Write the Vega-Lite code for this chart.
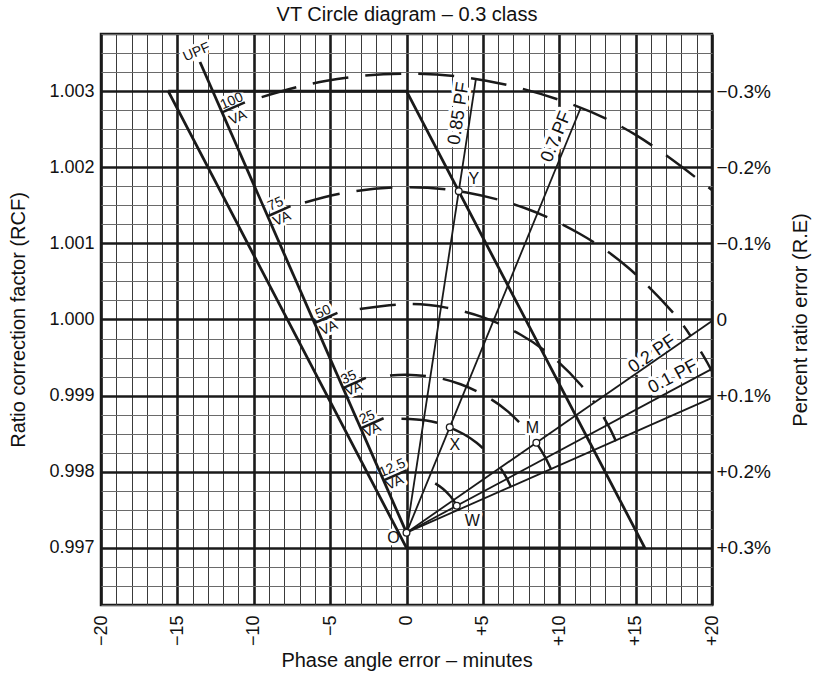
{
  "$schema": "https://vega.github.io/schema/vega-lite/v6.json",
  "width": 611,
  "height": 571,
  "autosize": {"type": "none"},
  "padding": {"left": 101, "top": 34, "right": 101, "bottom": 74},
  "background": "white",
  "config": {"font": "Liberation Sans", "view": {"stroke": "#1a1a1a", "strokeWidth": 2.5}},
  "datasets": {
    "heavy": [
      {"id": "para", "o": 0, "x": -15.6, "y": 1.003},
      {"id": "para", "o": 1, "x": 0, "y": 1.003},
      {"id": "para", "o": 2, "x": 15.6, "y": 0.997},
      {"id": "para", "o": 3, "x": 0, "y": 0.997},
      {"id": "para", "o": 4, "x": -15.6, "y": 1.003},
      {"id": "upf", "o": 0, "x": 0, "y": 0.9972},
      {"id": "upf", "o": 1, "x": -13.52, "y": 1.003382}
    ],
    "rays": [
      {"id": "pf085", "o": 0, "x": 0, "y": 0.9972},
      {"id": "pf085", "o": 1, "x": 4.546, "y": 1.00316},
      {"id": "pf07", "o": 0, "x": 0, "y": 0.9972},
      {"id": "pf07", "o": 1, "x": 11.4, "y": 1.002778},
      {"id": "pf02", "o": 0, "x": 0, "y": 0.9972},
      {"id": "pf02", "o": 1, "x": 20, "y": 0.99998},
      {"id": "pf01", "o": 0, "x": 0, "y": 0.9972},
      {"id": "pf01", "o": 1, "x": 20, "y": 0.999352},
      {"id": "pf00", "o": 0, "x": 0, "y": 0.9972},
      {"id": "pf00", "o": 1, "x": 20, "y": 0.99897}
    ],
    "ticks": [
      {"id": "t100", "o": 0, "x": -12.08, "y": 1.002721},
      {"id": "t100", "o": 1, "x": -10.58, "y": 1.002853},
      {"id": "t75", "o": 0, "x": -9.09, "y": 1.001356},
      {"id": "t75", "o": 1, "x": -7.59, "y": 1.001488},
      {"id": "t50", "o": 0, "x": -6.02, "y": 0.999954},
      {"id": "t50", "o": 1, "x": -4.52, "y": 1.000086},
      {"id": "t35", "o": 0, "x": -4.16, "y": 0.9991},
      {"id": "t35", "o": 1, "x": -2.66, "y": 0.999232},
      {"id": "t25", "o": 0, "x": -3.0, "y": 0.998571},
      {"id": "t25", "o": 1, "x": -1.5, "y": 0.998703},
      {"id": "t12", "o": 0, "x": -1.5, "y": 0.997886},
      {"id": "t12", "o": 1, "x": 0.0, "y": 0.998018}
    ],
    "dashArcs": [
      {"id": "a100", "o": 0, "x": -9.48, "y": 1.002921},
      {"id": "a100", "o": 1, "x": -5.22, "y": 1.003137},
      {"id": "a100", "o": 2, "x": 0, "y": 1.003229},
      {"id": "a100", "o": 3, "x": 5.22, "y": 1.003137},
      {"id": "a100", "o": 4, "x": 10.28, "y": 1.002865},
      {"id": "a100", "o": 5, "x": 15.03, "y": 1.002421},
      {"id": "a100", "o": 6, "x": 19.99, "y": 1.001701},
      {"id": "a75", "o": 0, "x": -6.65, "y": 1.001537},
      {"id": "a75", "o": 1, "x": -3.93, "y": 1.001669},
      {"id": "a75", "o": 2, "x": 0, "y": 1.001738},
      {"id": "a75", "o": 3, "x": 3.93, "y": 1.001669},
      {"id": "a75", "o": 4, "x": 7.74, "y": 1.001464},
      {"id": "a75", "o": 5, "x": 11.31, "y": 1.00113},
      {"id": "a75", "o": 6, "x": 14.54, "y": 1.000676},
      {"id": "a75", "o": 7, "x": 17.33, "y": 1.000117},
      {"id": "a75", "o": 8, "x": 18.6, "y": 0.999784},
      {"id": "a50", "o": 0, "x": -3.06, "y": 1.000139},
      {"id": "a50", "o": 1, "x": 0, "y": 1.000202},
      {"id": "a50", "o": 2, "x": 2.6, "y": 1.000156},
      {"id": "a50", "o": 3, "x": 5.12, "y": 1.000021},
      {"id": "a50", "o": 4, "x": 7.48, "y": 0.9998},
      {"id": "a50", "o": 5, "x": 9.62, "y": 0.9995},
      {"id": "a50", "o": 6, "x": 11.46, "y": 0.99913},
      {"id": "a50", "o": 7, "x": 12.3, "y": 0.998909},
      {"id": "a35", "o": 0, "x": -1.08, "y": 0.999264},
      {"id": "a35", "o": 1, "x": 0, "y": 0.999275},
      {"id": "a35", "o": 2, "x": 1.8, "y": 0.999243},
      {"id": "a35", "o": 3, "x": 3.54, "y": 0.99915},
      {"id": "a35", "o": 4, "x": 5.17, "y": 0.998997},
      {"id": "a35", "o": 5, "x": 6.65, "y": 0.99879},
      {"id": "a35", "o": 6, "x": 7.92, "y": 0.998534},
      {"id": "a25", "o": 0, "x": -0.33, "y": 0.998696},
      {"id": "a25", "o": 1, "x": 1.3, "y": 0.998674},
      {"id": "a25", "o": 2, "x": 2.55, "y": 0.998607},
      {"id": "a25", "o": 3, "x": 3.73, "y": 0.998496},
      {"id": "a25", "o": 4, "x": 4.59, "y": 0.99838},
      {"id": "a25", "o": 5, "x": 5.37, "y": 0.99824}
    ],
    "solidArcs": [
      {"id": "s75", "o": 0, "x": 19.27, "y": 0.999578},
      {"id": "s75", "o": 1, "x": 19.63, "y": 0.999455},
      {"id": "s75", "o": 2, "x": 19.99, "y": 0.999323},
      {"id": "s50", "o": 0, "x": 12.9, "y": 0.998719},
      {"id": "s50", "o": 1, "x": 13.33, "y": 0.998563},
      {"id": "s50", "o": 2, "x": 13.71, "y": 0.998402},
      {"id": "s35", "o": 0, "x": 8.5, "y": 0.998381},
      {"id": "s35", "o": 1, "x": 9.04, "y": 0.998206},
      {"id": "s35", "o": 2, "x": 9.48, "y": 0.998027},
      {"id": "s25", "o": 0, "x": 6.17, "y": 0.998044},
      {"id": "s25", "o": 1, "x": 6.53, "y": 0.997926},
      {"id": "s25", "o": 2, "x": 6.83, "y": 0.997802},
      {"id": "s12", "o": 0, "x": 1.88, "y": 0.997847},
      {"id": "s12", "o": 1, "x": 2.4, "y": 0.997774},
      {"id": "s12", "o": 2, "x": 2.86, "y": 0.997681},
      {"id": "s12", "o": 3, "x": 3.2, "y": 0.997586},
      {"id": "s12", "o": 4, "x": 3.44, "y": 0.997489}
    ],
    "pts": [
      {"p": "O", "x": 0, "y": 0.9972},
      {"p": "X", "x": 2.83, "y": 0.998585},
      {"p": "Y", "x": 3.42, "y": 1.001686},
      {"p": "M", "x": 8.5, "y": 0.998381},
      {"p": "W", "x": 3.29, "y": 0.997554}
    ],
    "labels": [
      {"g": "va", "t": "UPF", "x": -13.73, "y": 1.003511},
      {"g": "va", "t": "100", "x": -11.44, "y": 1.002867},
      {"g": "va", "t": "VA", "x": -11.04, "y": 1.002651},
      {"g": "va", "t": "75", "x": -8.57, "y": 1.001515},
      {"g": "va", "t": "VA", "x": -8.15, "y": 1.00132},
      {"g": "va", "t": "50", "x": -5.45, "y": 1.000096},
      {"g": "va", "t": "VA", "x": -5.09, "y": 0.999886},
      {"g": "va", "t": "35", "x": -3.78, "y": 0.999236},
      {"g": "va", "t": "VA", "x": -3.45, "y": 0.999085},
      {"g": "va", "t": "25", "x": -2.57, "y": 0.998713},
      {"g": "va", "t": "VA", "x": -2.25, "y": 0.998546},
      {"g": "va", "t": "12.5", "x": -0.93, "y": 0.998047},
      {"g": "va", "t": "VA", "x": -0.77, "y": 0.997856},
      {"g": "pf085", "t": "0.85 PF", "x": 3.44, "y": 1.002706},
      {"g": "pf07", "t": "0.7 PF", "x": 9.82, "y": 1.002399},
      {"g": "pf02", "t": "0.2 PF", "x": 16.09, "y": 0.999544},
      {"g": "pf01", "t": "0.1 PF", "x": 17.45, "y": 0.999246},
      {"g": "pt", "t": "X", "x": 3.16, "y": 0.998349},
      {"g": "pt", "t": "Y", "x": 4.41, "y": 1.001852},
      {"g": "pt", "t": "M", "x": 8.24, "y": 0.998579},
      {"g": "pt", "t": "W", "x": 4.31, "y": 0.99735},
      {"g": "pt", "t": "O", "x": -0.85, "y": 0.99713}
    ]
  },
  "resolve": {"axis": {"x": "independent", "y": "independent"}},
  "layer": [
    {
      "data": {"name": "pts"},
      "mark": {"type": "point", "opacity": 0},
      "encoding": {
        "x": {"field": "x", "type": "quantitative", "scale": {"domain": [-20, 20], "nice": false, "zero": false},
          "axis": {
            "orient": "bottom",
            "values": [-20,-19,-18,-17,-16,-15,-14,-13,-12,-11,-10,-9,-8,-7,-6,-5,-4,-3,-2,-1,0,1,2,3,4,5,6,7,8,9,10,11,12,13,14,15,16,17,18,19,20],
            "labelExpr": "datum.value % 5 === 0 ? (datum.value > 0 ? '+' + datum.value : (datum.value < 0 ? '\u2212' + abs(datum.value) : '0')) : ''",
            "labelAngle": -90, "labelPadding": 10,
            "labelFontSize": 18, "labelColor": "#111", "labelFlush": false, "labelOverlap": false,
            "ticks": false, "domain": false, "grid": true,
            "gridColor": {"condition": {"test": "datum.value % 5 === 0", "value": "#1a1a1a"}, "value": "#3a3a3a"},
            "gridWidth": {"condition": {"test": "datum.value % 5 === 0", "value": 2.6}, "value": 1},
            "title": "Phase angle error \u2013 minutes", "titleFontSize": 20, "titleFontWeight": "normal", "titleColor": "#111",
            "titleX": 305.5, "titleY": 55, "titleAlign": "center", "titleBaseline": "middle"
          }},
        "y": {"field": "y", "type": "quantitative", "scale": {"domain": [0.99625, 1.00375], "nice": false, "zero": false},
          "axis": {
            "orient": "left",
            "values": [0.99625,0.9965,0.99675,0.997,0.99725,0.9975,0.99775,0.998,0.99825,0.9985,0.99875,0.999,0.99925,0.9995,0.99975,1.0,1.00025,1.0005,1.00075,1.001,1.00125,1.0015,1.00175,1.002,1.00225,1.0025,1.00275,1.003,1.00325,1.0035,1.00375],
            "labelExpr": "abs(datum.value * 1000 - round(datum.value * 1000)) < 0.001 ? format(datum.value, '.3f') : ''",
            "labelPadding": 7, "labelFontSize": 18, "labelColor": "#111", "labelFlush": false, "labelOverlap": false, "labelBound": false,
            "ticks": false, "domain": false, "grid": true,
            "gridColor": {"condition": {"test": "abs(datum.value * 1000 - round(datum.value * 1000)) < 0.001", "value": "#1a1a1a"}, "value": "#6a6a6a"},
            "gridWidth": {"condition": {"test": "abs(datum.value * 1000 - round(datum.value * 1000)) < 0.001", "value": 2.6}, "value": 1},
            "title": "Ratio correction factor (RCF)", "titleFontSize": 20, "titleFontWeight": "normal", "titleColor": "#111",
            "titleAngle": 270, "titleX": -83, "titleY": 285.5, "titleAlign": "center", "titleBaseline": "middle"
          }}
      }
    },
    {
      "data": {"name": "pts"},
      "mark": {"type": "point", "opacity": 0},
      "encoding": {
        "x": {"field": "x", "type": "quantitative",
          "axis": {
            "orient": "top", "labels": false, "ticks": false, "domain": false, "grid": false,
            "title": "VT Circle diagram \u2013 0.3 class", "titleFontSize": 20, "titleFontWeight": "normal", "titleColor": "#111",
            "titleX": 305.5, "titleY": -14, "titleAlign": "center", "titleBaseline": "alphabetic"
          }},
        "y": {"field": "y", "type": "quantitative",
          "axis": {
            "orient": "right",
            "values": [0.997, 0.998, 0.999, 1.0, 1.001, 1.002, 1.003],
            "labelExpr": "round((1 - datum.value) * 1000) === 0 ? '0' : (round((1 - datum.value) * 1000) > 0 ? '+0.' + round((1 - datum.value) * 1000) + '%' : '\u22120.' + abs(round((1 - datum.value) * 1000)) + '%')",
            "labelPadding": 4, "labelFontSize": 19, "labelColor": "#111", "labelFlush": false, "labelOverlap": false, "labelBound": false,
            "ticks": false, "domain": false, "grid": false,
            "title": "Percent ratio error (R.E)", "titleFontSize": 20, "titleFontWeight": "normal", "titleColor": "#111",
            "titleAngle": 270, "titleX": 88, "titleY": 285.5, "titleAlign": "center", "titleBaseline": "middle"
          }}
      }
    },
    {
      "data": {"name": "labels"},
      "transform": [{"filter": "datum.g === 'va'"}],
      "mark": {"type": "text", "angle": -23.7, "fontSize": 14, "align": "center", "baseline": "middle", "fill": "white", "stroke": "white", "strokeWidth": 6, "strokeJoin": "round"},
      "encoding": {
        "x": {"field": "x", "type": "quantitative", "axis": null},
        "y": {"field": "y", "type": "quantitative", "axis": null},
        "text": {"field": "t"}}
    },
    {
      "data": {"name": "labels"},
      "transform": [{"filter": "datum.g === 'pf085'"}],
      "mark": {"type": "text", "angle": -81.3, "fontSize": 18, "align": "center", "baseline": "middle", "fill": "white", "stroke": "white", "strokeWidth": 7, "strokeJoin": "round"},
      "encoding": {
        "x": {"field": "x", "type": "quantitative", "axis": null},
        "y": {"field": "y", "type": "quantitative", "axis": null},
        "text": {"field": "t"}}
    },
    {
      "data": {"name": "labels"},
      "transform": [{"filter": "datum.g === 'pf07'"}],
      "mark": {"type": "text", "angle": -67.7, "fontSize": 18, "align": "center", "baseline": "middle", "fill": "white", "stroke": "white", "strokeWidth": 7, "strokeJoin": "round"},
      "encoding": {
        "x": {"field": "x", "type": "quantitative", "axis": null},
        "y": {"field": "y", "type": "quantitative", "axis": null},
        "text": {"field": "t"}}
    },
    {
      "data": {"name": "labels"},
      "transform": [{"filter": "datum.g === 'pf02'"}],
      "mark": {"type": "text", "angle": -34.7, "fontSize": 18, "align": "center", "baseline": "middle", "fill": "white", "stroke": "white", "strokeWidth": 7, "strokeJoin": "round"},
      "encoding": {
        "x": {"field": "x", "type": "quantitative", "axis": null},
        "y": {"field": "y", "type": "quantitative", "axis": null},
        "text": {"field": "t"}}
    },
    {
      "data": {"name": "labels"},
      "transform": [{"filter": "datum.g === 'pf01'"}],
      "mark": {"type": "text", "angle": -28.2, "fontSize": 18, "align": "center", "baseline": "middle", "fill": "white", "stroke": "white", "strokeWidth": 7, "strokeJoin": "round"},
      "encoding": {
        "x": {"field": "x", "type": "quantitative", "axis": null},
        "y": {"field": "y", "type": "quantitative", "axis": null},
        "text": {"field": "t"}}
    },
    {
      "data": {"name": "labels"},
      "transform": [{"filter": "datum.g === 'pt'"}],
      "mark": {"type": "text", "fontSize": 16, "align": "center", "baseline": "middle", "fill": "white", "stroke": "white", "strokeWidth": 5, "strokeJoin": "round"},
      "encoding": {
        "x": {"field": "x", "type": "quantitative", "axis": null},
        "y": {"field": "y", "type": "quantitative", "axis": null},
        "text": {"field": "t"}}
    },
    {
      "data": {"name": "heavy"},
      "mark": {"type": "line", "color": "#1a1a1a", "strokeWidth": 2.8, "strokeJoin": "miter"},
      "encoding": {
        "x": {"field": "x", "type": "quantitative", "axis": null},
        "y": {"field": "y", "type": "quantitative", "axis": null},
        "detail": {"field": "id"}, "order": {"field": "o"}}
    },
    {
      "data": {"name": "rays"},
      "mark": {"type": "line", "color": "#1a1a1a", "strokeWidth": 1.8},
      "encoding": {
        "x": {"field": "x", "type": "quantitative", "axis": null},
        "y": {"field": "y", "type": "quantitative", "axis": null},
        "detail": {"field": "id"}, "order": {"field": "o"}}
    },
    {
      "data": {"name": "dashArcs"},
      "mark": {"type": "line", "color": "#1a1a1a", "strokeWidth": 2.5, "interpolate": "natural", "strokeDash": [36, 17]},
      "encoding": {
        "x": {"field": "x", "type": "quantitative", "axis": null},
        "y": {"field": "y", "type": "quantitative", "axis": null},
        "detail": {"field": "id"}, "order": {"field": "o"}}
    },
    {
      "data": {"name": "solidArcs"},
      "mark": {"type": "line", "color": "#1a1a1a", "strokeWidth": 2.5, "interpolate": "natural"},
      "encoding": {
        "x": {"field": "x", "type": "quantitative", "axis": null},
        "y": {"field": "y", "type": "quantitative", "axis": null},
        "detail": {"field": "id"}, "order": {"field": "o"}}
    },
    {
      "data": {"name": "ticks"},
      "mark": {"type": "line", "color": "#1a1a1a", "strokeWidth": 2.5},
      "encoding": {
        "x": {"field": "x", "type": "quantitative", "axis": null},
        "y": {"field": "y", "type": "quantitative", "axis": null},
        "detail": {"field": "id"}, "order": {"field": "o"}}
    },
    {
      "data": {"name": "pts"},
      "mark": {"type": "point", "shape": "circle", "size": 45, "filled": true, "fill": "white", "stroke": "#1a1a1a", "strokeWidth": 1.3, "opacity": 1},
      "encoding": {
        "x": {"field": "x", "type": "quantitative", "axis": null},
        "y": {"field": "y", "type": "quantitative", "axis": null}}
    },
    {
      "data": {"name": "labels"},
      "transform": [{"filter": "datum.g === 'va'"}],
      "mark": {"type": "text", "angle": -23.7, "fontSize": 14, "align": "center", "baseline": "middle", "color": "#111"},
      "encoding": {
        "x": {"field": "x", "type": "quantitative", "axis": null},
        "y": {"field": "y", "type": "quantitative", "axis": null},
        "text": {"field": "t"}}
    },
    {
      "data": {"name": "labels"},
      "transform": [{"filter": "datum.g === 'pf085'"}],
      "mark": {"type": "text", "angle": -81.3, "fontSize": 18, "align": "center", "baseline": "middle", "color": "#111"},
      "encoding": {
        "x": {"field": "x", "type": "quantitative", "axis": null},
        "y": {"field": "y", "type": "quantitative", "axis": null},
        "text": {"field": "t"}}
    },
    {
      "data": {"name": "labels"},
      "transform": [{"filter": "datum.g === 'pf07'"}],
      "mark": {"type": "text", "angle": -67.7, "fontSize": 18, "align": "center", "baseline": "middle", "color": "#111"},
      "encoding": {
        "x": {"field": "x", "type": "quantitative", "axis": null},
        "y": {"field": "y", "type": "quantitative", "axis": null},
        "text": {"field": "t"}}
    },
    {
      "data": {"name": "labels"},
      "transform": [{"filter": "datum.g === 'pf02'"}],
      "mark": {"type": "text", "angle": -34.7, "fontSize": 18, "align": "center", "baseline": "middle", "color": "#111"},
      "encoding": {
        "x": {"field": "x", "type": "quantitative", "axis": null},
        "y": {"field": "y", "type": "quantitative", "axis": null},
        "text": {"field": "t"}}
    },
    {
      "data": {"name": "labels"},
      "transform": [{"filter": "datum.g === 'pf01'"}],
      "mark": {"type": "text", "angle": -28.2, "fontSize": 18, "align": "center", "baseline": "middle", "color": "#111"},
      "encoding": {
        "x": {"field": "x", "type": "quantitative", "axis": null},
        "y": {"field": "y", "type": "quantitative", "axis": null},
        "text": {"field": "t"}}
    },
    {
      "data": {"name": "labels"},
      "transform": [{"filter": "datum.g === 'pt'"}],
      "mark": {"type": "text", "fontSize": 16, "align": "center", "baseline": "middle", "color": "#111"},
      "encoding": {
        "x": {"field": "x", "type": "quantitative", "axis": null},
        "y": {"field": "y", "type": "quantitative", "axis": null},
        "text": {"field": "t"}}
    }
  ]
}
